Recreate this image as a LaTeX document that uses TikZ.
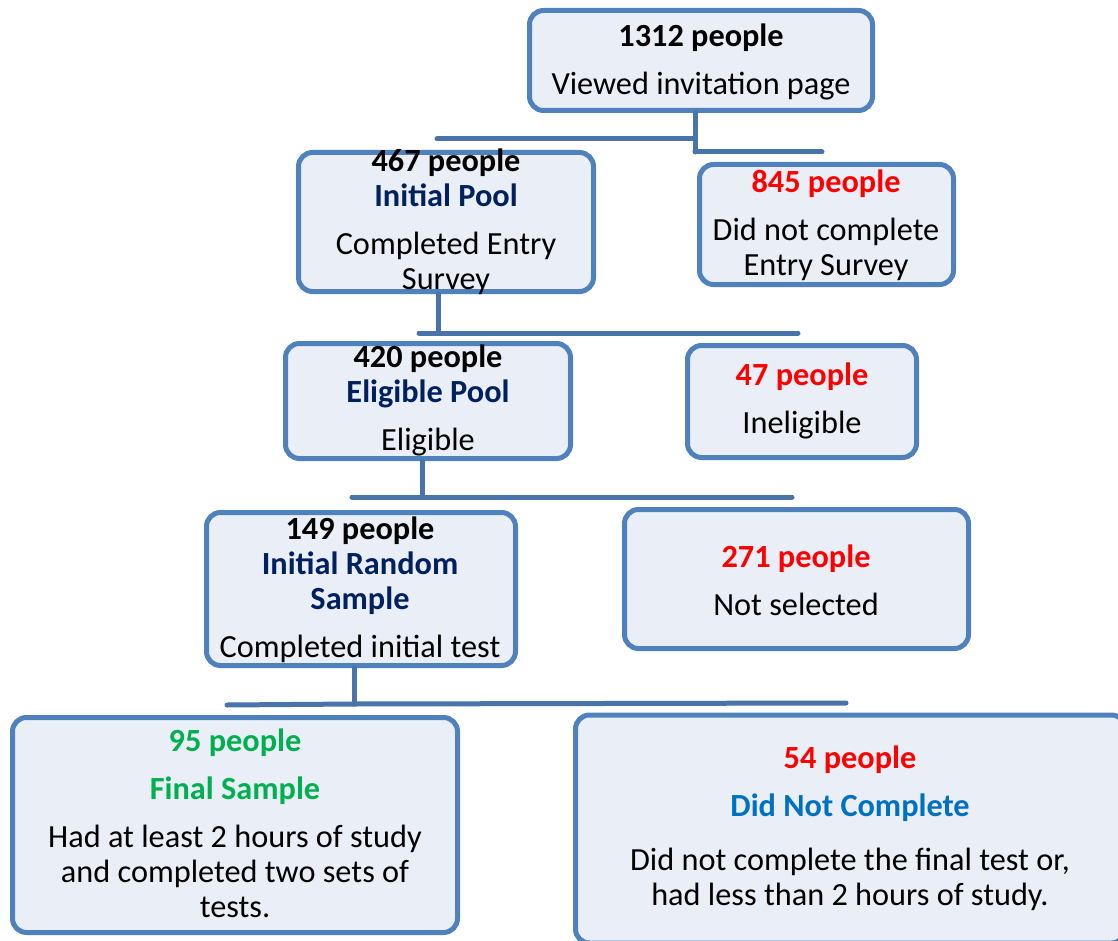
\documentclass[tikz,border=0pt]{standalone}
\usepackage{fontspec}
\setmainfont{Carlito}
\usetikzlibrary{calc}

\definecolor{boxline}{RGB}{79,129,189}
\definecolor{boxfill}{RGB}{234,239,247}
\definecolor{linkline}{RGB}{72,116,170}
\definecolor{navy}{RGB}{0,32,96}
\definecolor{lossred}{RGB}{255,0,0}
\definecolor{keepgreen}{RGB}{0,176,80}
\definecolor{dropblue}{RGB}{0,112,192}

\tikzset{
  box/.style={draw=boxline, fill=boxfill, line width=5pt, rounded corners=14pt, inner sep=0pt},
  txt/.style={align=center, font=\fontsize{32.3}{35}\selectfont, inner sep=0pt},
  link/.style={draw=linkline, line width=5pt, line cap=round},
}
\newcommand{\gap}{\\[13pt]}
\newcommand{\num}[1]{\textbf{#1}}
\newcommand{\pool}[1]{\textcolor{navy}{\textbf{#1}}}

\begin{document}
\begin{tikzpicture}[x=1pt,y=-1pt]
	%% Page frame (the last box runs off the page)
	\useasboundingbox (0,0) rectangle (1118,941);
	\clip (0,0) rectangle (1118,941);

	%% Boxes: kept in the left column, dropped on the right
	\node[box, minimum width=343pt, minimum height=100pt] (b1) at (701,60.5) {};
	\node[box, minimum width=295pt, minimum height=139pt] (b2) at (446,222) {};
	\node[box, minimum width=254pt, minimum height=120pt] (b3) at (826.5,224.5) {};
	\node[box, minimum width=285pt, minimum height=115pt] (b4) at (428,401) {};
	\node[box, minimum width=229pt, minimum height=112pt] (b5) at (802,401.5) {};
	\node[box, minimum width=309pt, minimum height=153pt] (b6) at (361,589) {};
	\node[box, minimum width=344pt, minimum height=139pt] (b7) at (796.5,579) {};
	\node[box, minimum width=445pt, minimum height=215pt] (b8) at (235,825) {};
	\node[box, minimum width=550pt, minimum height=228pt] (b9) at (850.5,829) {};

	%% Texts of the boxes
	\node[txt] (t1) at (701,62) {\num{1312 people}\gap Viewed invitation page};
	\node[txt] (t2) at (446,222) {\num{467 people}\\\pool{Initial Pool}\gap Completed Entry\\Survey};
	\node[txt] (t3) at (826,225) {\textcolor{lossred}{\num{845 people}}\gap Did not complete\\Entry Survey};
	\node[txt] (t4) at (428,400) {\num{420 people}\\\pool{Eligible Pool}\gap Eligible};
	\node[txt] (t5) at (802,401) {\textcolor{lossred}{\num{47 people}}\gap Ineligible};
	\node[txt] (t6) at (360,590) {\num{149 people}\\\pool{Initial Random}\\\pool{Sample}\gap Completed initial test};
	\node[txt] (t7) at (796,580) {\textcolor{lossred}{\num{271 people}}\gap Not selected};
	\node[txt] (t8) at (235,823) {\textcolor{keepgreen}{\num{95 people}}\gap
	  \textcolor{keepgreen}{\num{Final Sample}}\gap Had at least 2 hours of study\\and completed two sets of\\tests.};
	\node[txt] (t9) at (850,828) {\textcolor{lossred}{\num{54 people}}\gap
	  \textcolor{dropblue}{\num{Did Not Complete}}\\[19pt] Did not complete the final test or,\\had less than 2 hours of study.};

	%% Junctions and free ends of the split lines
	\coordinate (j1) at (695,152);
	\coordinate (l1) at (437,139);
	\coordinate (r1) at (822,152);
	\coordinate (j2) at (438,333);
	\coordinate (l2) at (419,333);
	\coordinate (r2) at (798,333);
	\coordinate (j3) at (422,497);
	\coordinate (l3) at (352,497);
	\coordinate (r3) at (792,497);
	\coordinate (j4) at (354,704);
	\coordinate (l4) at (227,705);
	\coordinate (r4) at (846,703);

	%% Split lines
	\draw[link] (j1 |- b1.south) -- (j1);
	\draw[link] (l1) -- (l1 -| j1);
	\draw[link] (j1) -- (r1);
	\draw[link] (j2 |- b2.south) -- (j2);
	\draw[link] (l2) -- (r2);
	\draw[link] (j3 |- b4.south) -- (j3);
	\draw[link] (l3) -- (r3);
	\draw[link] (j4 |- b6.south) -- (j4);
	\draw[link] (l4) -- (j4) -- (r4);
\end{tikzpicture}
\end{document}
